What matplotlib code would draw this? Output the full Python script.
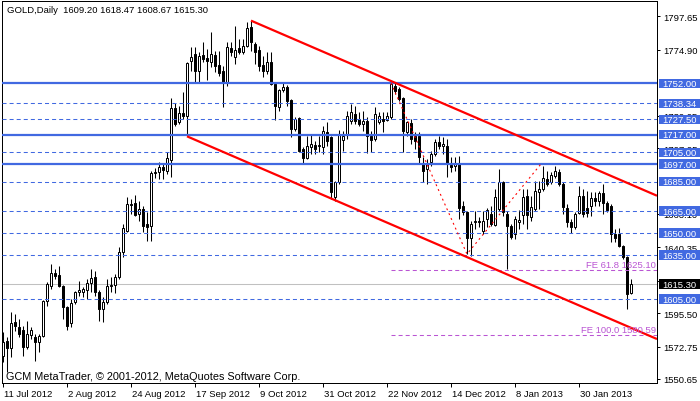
import numpy as np
import matplotlib
matplotlib.use("Agg")
import matplotlib.pyplot as plt
import matplotlib.transforms as mtransforms
from matplotlib.patches import Rectangle

plt.rcParams["font.family"] = ["Liberation Sans", "DejaVu Sans"]
plt.rcParams["lines.scale_dashes"] = False

# daily OHLC, 11 Jul 2012 .. 18 Feb 2013
opens = [1566.1, 1576.7, 1571.6, 1589.3, 1585.8, 1584.2, 1572.3, 1580.6, 1579.0, 1575.6,
         1580.1, 1604.0, 1614.2, 1622.8, 1621.5, 1613.8, 1599.5, 1588.8, 1602.9, 1610.1,
         1609.7, 1611.4, 1616.0, 1619.9, 1609.7, 1598.3, 1602.9, 1613.8, 1614.7, 1619.9,
         1637.0, 1651.6, 1668.9, 1670.5, 1663.0, 1666.4, 1656.2, 1655.0, 1690.9, 1691.8,
         1694.8, 1692.5, 1700.0, 1735.0, 1725.4, 1731.6, 1730.0, 1767.4, 1771.9, 1760.6,
         1771.3, 1769.5, 1766.3, 1771.3, 1764.5, 1760.6, 1752.2, 1775.8, 1769.7, 1775.8,
         1773.1, 1777.2, 1790.2, 1778.8, 1774.7, 1764.7, 1760.6, 1766.7, 1751.5, 1735.7,
         1747.7, 1749.3, 1740.9, 1720.9, 1728.2, 1707.3, 1700.9, 1708.4, 1710.0, 1709.1,
         1708.4, 1718.6, 1715.2, 1674.4, 1684.6, 1713.6, 1717.5, 1726.5, 1731.1, 1727.7,
         1724.3, 1726.5, 1716.3, 1714.1, 1725.9, 1727.7, 1727.0, 1728.9, 1750.4, 1748.1,
         1741.8, 1718.6, 1724.9, 1716.3, 1716.3, 1697.1, 1693.7, 1698.2, 1703.9, 1711.8,
         1709.1, 1709.5, 1696.3, 1695.5, 1697.1, 1668.5, 1664.6, 1646.7, 1657.7, 1658.2,
         1651.6, 1659.6, 1663.0, 1655.5, 1666.4, 1685.0, 1663.0, 1654.6, 1649.4, 1657.8,
         1662.3, 1675.1, 1660.8, 1666.4, 1678.2, 1680.0, 1686.9, 1684.6, 1688.7, 1691.4,
         1683.5, 1666.9, 1657.8, 1653.9, 1663.7, 1675.5, 1666.9, 1668.7, 1673.7, 1672.1,
         1677.3, 1670.5, 1668.7, 1649.4, 1649.4, 1641.4, 1633.5, 1609.20]
highs = [1582.4, 1579.0, 1596.0, 1594.9, 1591.5, 1587.0, 1590.4, 1585.8, 1581.3, 1581.3,
         1604.6, 1616.5, 1628.9, 1625.6, 1627.8, 1614.5, 1600.6, 1605.1, 1610.8, 1617.6,
         1613.1, 1618.8, 1625.6, 1624.4, 1611.0, 1606.3, 1618.8, 1619.9, 1622.2, 1640.3,
         1656.2, 1674.4, 1673.2, 1675.9, 1672.1, 1668.7, 1664.2, 1692.5, 1694.1, 1698.2,
         1698.0, 1705.0, 1741.8, 1738.4, 1736.8, 1745.9, 1766.3, 1776.5, 1776.5, 1773.1,
         1779.9, 1775.4, 1786.7, 1774.2, 1774.2, 1764.0, 1779.9, 1779.9, 1791.2, 1782.2,
         1782.2, 1793.6, 1794.7, 1779.9, 1777.6, 1770.8, 1773.5, 1773.1, 1752.5, 1748.1,
         1752.7, 1750.9, 1741.5, 1728.9, 1728.9, 1708.4, 1716.3, 1717.5, 1712.9, 1716.3,
         1723.2, 1725.4, 1716.3, 1685.7, 1720.2, 1719.7, 1733.4, 1737.9, 1736.8, 1732.3,
         1733.4, 1728.9, 1719.7, 1735.7, 1732.3, 1732.3, 1732.3, 1752.7, 1752.2, 1749.3,
         1742.5, 1726.5, 1727.7, 1718.6, 1718.6, 1701.6, 1700.5, 1706.1, 1714.1, 1716.0,
         1715.4, 1714.1, 1701.6, 1702.0, 1702.7, 1672.0, 1665.3, 1658.4, 1665.3, 1661.0,
         1665.3, 1667.0, 1668.7, 1680.0, 1693.7, 1685.7, 1665.3, 1656.2, 1661.4, 1665.9,
         1680.0, 1680.0, 1675.5, 1685.7, 1685.7, 1695.9, 1692.5, 1691.4, 1695.9, 1693.7,
         1684.6, 1669.8, 1659.6, 1664.6, 1682.3, 1680.0, 1678.9, 1677.8, 1677.8, 1678.9,
         1683.5, 1672.1, 1669.5, 1652.8, 1653.3, 1641.9, 1634.6, 1618.47]
lows = [1562.0, 1555.2, 1565.4, 1583.6, 1579.0, 1566.5, 1571.1, 1577.9, 1563.1, 1568.8,
        1579.0, 1600.6, 1612.0, 1618.8, 1613.1, 1591.5, 1584.2, 1585.8, 1601.7, 1607.4,
        1606.3, 1605.1, 1609.7, 1607.4, 1590.4, 1589.3, 1601.7, 1609.7, 1609.2, 1618.8,
        1633.5, 1650.9, 1663.0, 1661.4, 1658.4, 1650.9, 1644.8, 1644.8, 1687.3, 1686.9,
        1687.0, 1690.3, 1688.0, 1723.1, 1724.3, 1727.7, 1715.9, 1760.6, 1752.2, 1752.7,
        1766.3, 1754.5, 1762.9, 1759.5, 1757.2, 1735.7, 1750.0, 1770.8, 1765.2, 1772.0,
        1772.0, 1776.5, 1774.0, 1765.2, 1760.6, 1756.1, 1758.4, 1750.8, 1727.2, 1733.4,
        1745.9, 1736.8, 1715.2, 1719.7, 1705.0, 1697.1, 1700.5, 1703.9, 1703.9, 1705.0,
        1703.9, 1709.5, 1673.2, 1672.0, 1683.5, 1706.1, 1714.1, 1724.3, 1724.3, 1723.2,
        1719.7, 1704.4, 1705.0, 1712.9, 1724.3, 1718.6, 1726.5, 1727.7, 1744.7, 1740.2,
        1705.0, 1716.3, 1710.7, 1707.3, 1698.0, 1684.6, 1683.5, 1695.9, 1702.7, 1707.3,
        1703.9, 1688.0, 1691.4, 1692.0, 1659.6, 1662.0, 1635.8, 1634.6, 1652.8, 1654.0,
        1649.4, 1653.9, 1655.0, 1654.6, 1665.3, 1661.9, 1625.6, 1646.0, 1646.0, 1652.8,
        1656.2, 1652.8, 1658.4, 1665.3, 1666.4, 1678.9, 1682.3, 1683.5, 1687.3, 1682.3,
        1663.0, 1653.9, 1650.1, 1652.8, 1663.0, 1660.8, 1660.8, 1661.9, 1668.7, 1668.7,
        1663.0, 1664.6, 1644.1, 1643.7, 1640.3, 1632.4, 1598.3, 1608.67]
closes = [1575.6, 1571.6, 1588.6, 1587.0, 1581.3, 1572.3, 1581.3, 1584.0, 1575.6, 1580.1,
          1604.0, 1615.4, 1622.8, 1621.0, 1613.8, 1599.5, 1587.0, 1602.4, 1609.7, 1611.4,
          1611.6, 1616.0, 1619.2, 1609.7, 1598.3, 1602.9, 1614.2, 1614.7, 1619.9, 1637.0,
          1653.3, 1669.8, 1669.8, 1662.4, 1666.4, 1655.0, 1654.4, 1690.9, 1691.8, 1694.8,
          1693.0, 1700.9, 1735.0, 1724.3, 1731.8, 1730.0, 1765.8, 1769.7, 1760.6, 1770.4,
          1768.6, 1767.4, 1771.9, 1763.6, 1759.0, 1752.2, 1776.5, 1773.1, 1774.9, 1773.5,
          1777.6, 1789.5, 1779.9, 1773.5, 1763.6, 1760.6, 1766.7, 1751.5, 1736.8, 1747.7,
          1749.4, 1740.2, 1720.9, 1727.7, 1706.1, 1700.9, 1709.5, 1710.7, 1707.3, 1710.0,
          1719.7, 1712.9, 1677.8, 1684.6, 1717.5, 1715.9, 1729.9, 1732.3, 1726.5, 1724.3,
          1726.5, 1716.3, 1713.6, 1731.1, 1729.9, 1726.5, 1729.9, 1751.5, 1747.0, 1741.3,
          1719.7, 1725.4, 1714.1, 1712.9, 1701.6, 1692.5, 1697.1, 1703.7, 1711.8, 1709.1,
          1710.7, 1697.1, 1695.0, 1697.0, 1667.0, 1664.5, 1646.7, 1656.2, 1658.4, 1657.7,
          1658.4, 1665.5, 1656.2, 1674.4, 1685.0, 1664.2, 1654.6, 1647.1, 1659.6, 1659.1,
          1674.4, 1662.3, 1667.6, 1678.9, 1680.0, 1687.3, 1683.5, 1689.5, 1692.5, 1683.5,
          1667.6, 1657.8, 1653.9, 1663.0, 1675.5, 1663.0, 1663.7, 1673.7, 1672.1, 1677.3,
          1670.5, 1665.9, 1649.4, 1646.5, 1641.4, 1633.5, 1608.5, 1615.30]

date_labels = ["11 Jul 2012", "2 Aug 2012", "24 Aug 2012", "17 Sep 2012", "9 Oct 2012",
               "31 Oct 2012", "22 Nov 2012", "14 Dec 2012", "8 Jan 2013", "30 Jan 2013"]
# scale labels that are not fully hidden behind the level boxes
price_ticks = [1797.65, 1774.90, 1730.05, 1707.95,
               1663.10, 1640.35, 1617.60, 1595.50, 1572.75, 1550.65]
solid_levels = [1752.00, 1717.00, 1697.00]
dashed_levels = [1738.34, 1727.50, 1705.00, 1685.00, 1665.00, 1650.00, 1635.00, 1605.00]

# equidistant channel (anchors: bar index, price) and its slope per bar
upper_anchor = (62, 1794.7)
lower_anchor = (46, 1715.9)
channel_slope = -1.175

# fibo expansion points A, B, C
fibo_idx = [97, 116, 134.5]
fibo_price = [1752.21, 1635.70, 1697.10]

blue = "#4169E1"
purple = "#BA55D3"
title = "GOLD,Daily  1609.20 1618.47 1608.67 1615.30"
copyright_txt = "GCM MetaTrader, \u00a9 2001-2012, MetaQuotes Software Corp."

opens = np.array(opens)
highs = np.array(highs)
lows = np.array(lows)
closes = np.array(closes)
x = np.arange(len(opens))

fig = plt.figure(figsize=(7, 4.02), dpi=100)
ax = fig.add_axes([2 / 700, 18 / 402, 655 / 700, 382 / 402])
ax.set_xlim(-0.25, 163.5)
ax.set_ylim(1547.9, 1808.07)
x_right = 163.5

# candles
up = closes >= opens
ax.vlines(x, lows, highs, color="black", lw=0.75, zorder=2)
ax.bar(x, np.maximum(np.abs(closes - opens), 0.35), bottom=np.minimum(opens, closes),
       width=0.5, color=np.where(up, "white", "black"), edgecolor="black",
       linewidth=0.72, zorder=3)

# bid line
ax.axhline(closes[-1], color="#c0c0c0", lw=0.75, zorder=1.5)

# horizontal levels
for lvl in solid_levels:
    ax.axhline(lvl, color=blue, lw=1.6, zorder=4)
for lvl in dashed_levels:
    ax.axhline(lvl, color=blue, lw=0.75, linestyle=(0, (2.9, 2.2)), zorder=4)

# fibo expansion
leg = fibo_price[0] - fibo_price[1]
fe_levels = [(61.8, fibo_price[2] - 0.618 * leg), (100.0, fibo_price[2] - leg)]
ax.plot(fibo_idx, fibo_price, color="red", lw=0.8, linestyle=(0, (1.4, 2.4)), zorder=5)
for pct, lvl in fe_levels:
    ax.hlines(lvl, fibo_idx[0], x_right, color=purple, lw=0.75,
              linestyle=(0, (2.9, 2.2)), zorder=4)
    ax.text(163.2, lvl + 0.6, f"FE {pct:.1f} {lvl:.2f}", color=purple, fontsize=6.8,
            ha="right", va="bottom", zorder=6)

# channel
for ax_i, ax_p in (upper_anchor, lower_anchor):
    xs = np.array([ax_i, x_right])
    ax.plot(xs, ax_p + channel_slope * (xs - ax_i), color="red", lw=1.6, zorder=5,
            solid_capstyle="butt")

# axes styling
for sp in ax.spines.values():
    sp.set_color("black")
    sp.set_linewidth(0.72)
ax.yaxis.tick_right()
ax.set_yticks(price_ticks)
ax.set_yticklabels([f"{p:.2f}" for p in price_ticks])
ax.tick_params(axis="y", direction="out", length=2.5, width=0.72, pad=2, labelsize=6.8)
ax.set_xticks(np.arange(len(date_labels)) * 16)
ax.set_xticklabels(date_labels)
ax.tick_params(axis="x", direction="out", length=3, width=0.72, pad=1.5, labelsize=6.8)
offset = mtransforms.ScaledTranslation(1.5 / 100, 0, fig.dpi_scale_trans)
for lab in ax.get_xticklabels():
    lab.set_horizontalalignment("left")
    lab.set_transform(lab.get_transform() + offset)

# price boxes on the right scale
trans = mtransforms.blended_transform_factory(ax.transAxes, ax.transData)
boxes = [(lvl, blue) for lvl in solid_levels + dashed_levels] + [(closes[-1], "black")]
for lvl, col in boxes:
    ax.add_patch(Rectangle((1.003, lvl - 3.2), 0.0626, 6.4, transform=trans,
                           facecolor=col, edgecolor="none", clip_on=False, zorder=6))
    ax.text(1.0085, lvl, f"{lvl:.2f}", transform=trans, color="white", fontsize=6.8,
            ha="left", va="center", clip_on=False, zorder=7)

fig.text(7 / 700, 1 - 10.5 / 402, title, fontsize=6.8, ha="left", va="center")
fig.text(6 / 700, 1 - 377 / 402, copyright_txt, fontsize=7.8, ha="left", va="center")

fig.savefig("out.png", dpi=100)
